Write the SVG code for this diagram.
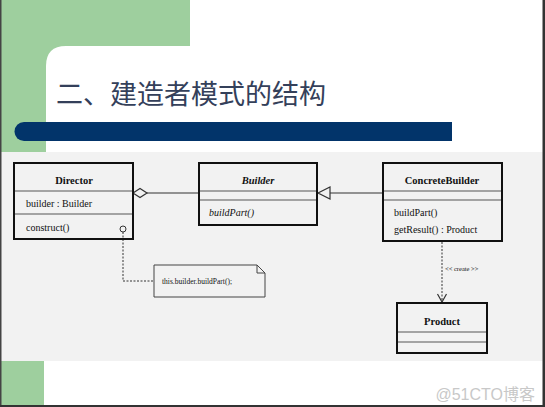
<svg xmlns="http://www.w3.org/2000/svg" width="545" height="407" viewBox="0 0 545 407">
<style>
.box{fill:none;stroke:#111;stroke-width:2}
.div{stroke:#555;stroke-width:1.2}
.t{font-family:"Liberation Serif",serif;fill:#111}
.b{font-weight:bold;font-size:10.5px}
.m{font-size:10px}
.dash{fill:none;stroke:#333;stroke-width:1;stroke-dasharray:2,1.5}
</style>
<defs>
<marker id="open" markerWidth="12" markerHeight="12" refX="9" refY="6" orient="auto" markerUnits="userSpaceOnUse">
<path d="M1,1.5 L9,6 L1,10.5" fill="none" stroke="#333" stroke-width="1.2"/>
</marker>
</defs>
<rect x="0" y="0" width="545" height="407" fill="#ffffff"/>
<rect x="0" y="0" width="190" height="155" fill="#9ecf9e"/>
<path d="M46,66 Q46,46 66,46 L545,46 L545,155 L46,155 Z" fill="#ffffff"/>
<rect x="0" y="152" width="545" height="209" fill="#f2f2f2"/>
<rect x="0" y="361" width="44" height="46" fill="#9ecf9e"/>
<rect x="0" y="0" width="1.5" height="407" fill="#444"/>
<rect x="542.5" y="0" width="2.5" height="407" fill="#333"/>
<rect x="0" y="405" width="545" height="2" fill="#333"/>
<path d="M24,122 L452,122 L452,141 L24,141 A9.5,9.5 0 0 1 24,122 Z" fill="#02346a"/>
<text x="56" y="104" font-family="'Noto Sans CJK SC',sans-serif" font-size="27" fill="#34405a">二、建造者模式的结构</text>

<g id="connectors">
<line x1="147" y1="193" x2="199" y2="193" stroke="#333" stroke-width="1.2"/>
<path d="M133,193 L140,188.5 L147,193 L140,197.5 Z" fill="#f2f2f2" stroke="#333" stroke-width="1.2"/>
<line x1="330" y1="193" x2="383" y2="193" stroke="#333" stroke-width="1.2"/>
<path d="M318,193 L330,187 L330,199 Z" fill="#f2f2f2" stroke="#333" stroke-width="1.2"/>
<polyline class="dash" points="123,232 123,281 154,281"/>
<line class="dash" x1="442" y1="242" x2="442" y2="302" marker-end="url(#open)"/>
<text class="t" x="445" y="271" font-size="6.5">&lt;&lt; create &gt;&gt;</text>
</g>

<g id="director">
<rect class="box" x="14" y="163" width="119" height="76" fill="#f2f2f2"/>
<line class="div" x1="15" y1="191" x2="132" y2="191"/>
<line class="div" x1="15" y1="214" x2="132" y2="214"/>
<text class="t b" x="74" y="184" text-anchor="middle">Director</text>
<text class="t m" x="26" y="207">builder : Builder</text>
<text class="t m" x="26" y="231">construct()</text>
<circle cx="123" cy="229" r="3" fill="#f2f2f2" stroke="#333" stroke-width="1"/>
</g>

<g id="builder">
<rect class="box" x="199" y="163" width="118" height="62" fill="#f2f2f2"/>
<line class="div" x1="200" y1="191" x2="316" y2="191"/>
<line class="div" x1="200" y1="200" x2="316" y2="200"/>
<text class="t b" x="258" y="184" text-anchor="middle" font-style="italic">Builder</text>
<text class="t m" x="209" y="216" font-style="italic">buildPart()</text>
</g>

<g id="concretebuilder">
<rect class="box" x="383" y="163" width="119" height="78" fill="#f2f2f2"/>
<line class="div" x1="384" y1="191" x2="501" y2="191"/>
<line class="div" x1="384" y1="200" x2="501" y2="200"/>
<text class="t b" x="442" y="184" text-anchor="middle">ConcreteBuilder</text>
<text class="t m" x="394" y="216">buildPart()</text>
<text class="t m" x="394" y="233">getResult() : Product</text>
</g>

<g id="product">
<rect class="box" x="397" y="303" width="90" height="50" fill="#f2f2f2"/>
<line class="div" x1="398" y1="332" x2="486" y2="332"/>
<line class="div" x1="398" y1="342" x2="486" y2="342"/>
<text class="t b" x="442" y="325" text-anchor="middle">Product</text>
</g>

<g id="note">
<path d="M154,265 L257,265 L265,273 L265,297 L154,297 Z" fill="#f2f2f2" stroke="#444" stroke-width="1"/>
<path d="M257,265 L257,273 L265,273" fill="none" stroke="#444" stroke-width="1"/>
<text class="t" x="162" y="284" font-size="7.5">this.builder.buildPart();</text>
</g>

<text x="535" y="400" text-anchor="end" font-family="'Liberation Sans','Noto Sans CJK SC',sans-serif" font-size="16" fill="#c8c8c8">@51CTO博客</text>
</svg>
